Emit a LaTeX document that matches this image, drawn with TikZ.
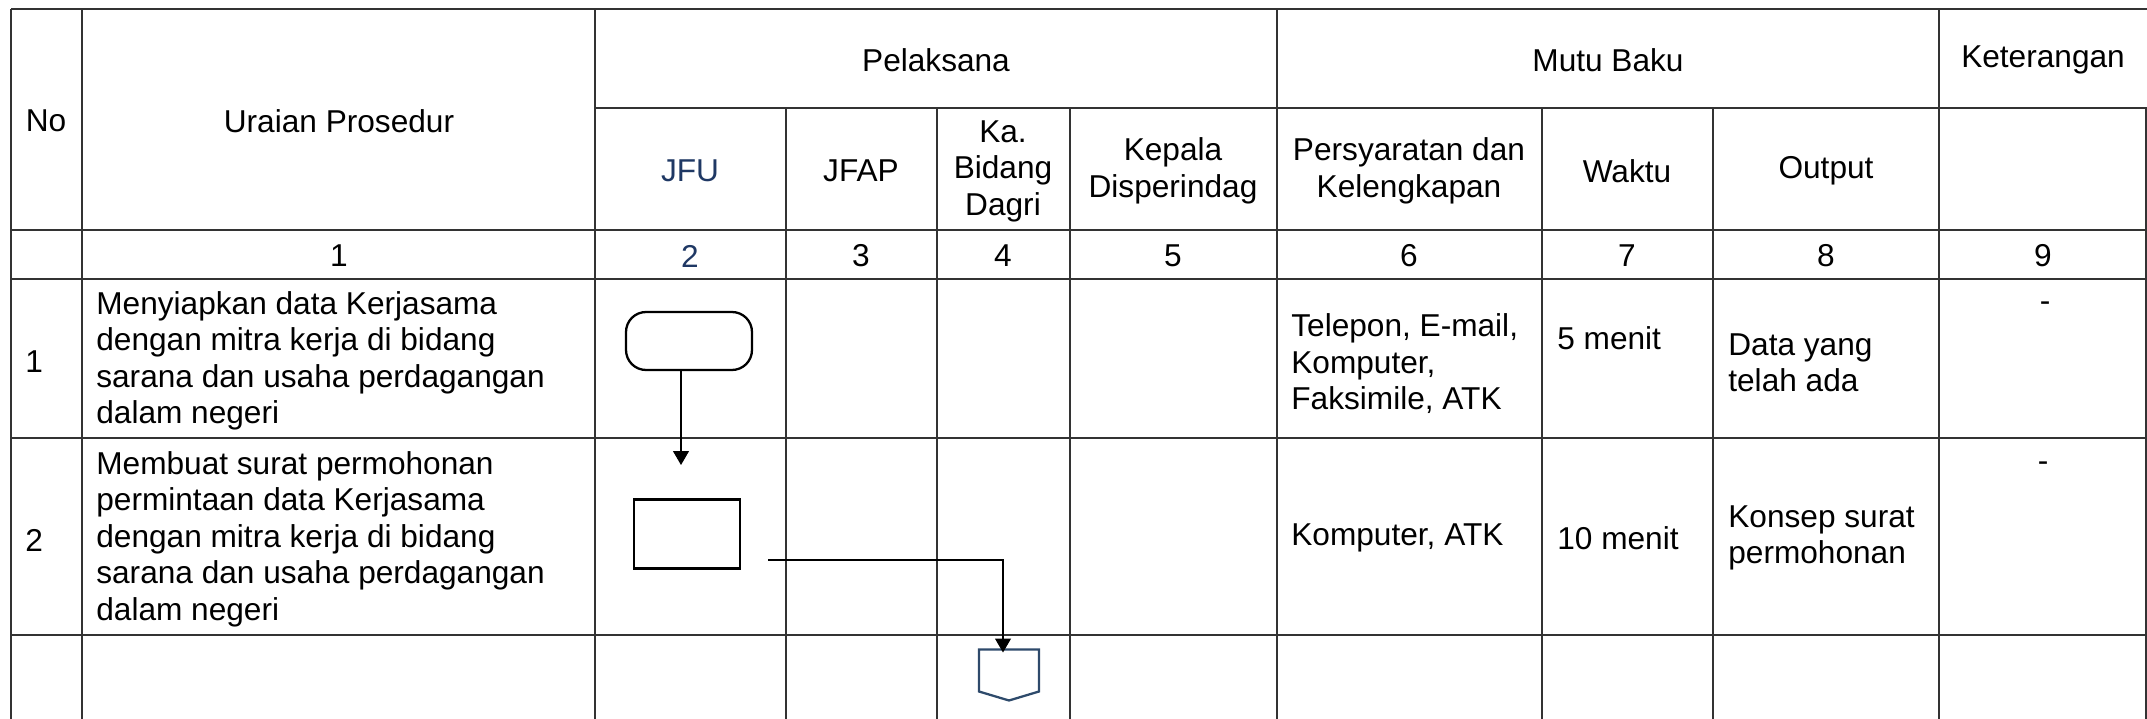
\documentclass[tikz,border=0pt]{standalone}
\usepackage{fontspec}
\setmainfont{Liberation Sans}
\usetikzlibrary{arrows.meta}

\definecolor{jfublue}{HTML}{1F3864}
\definecolor{offblue}{HTML}{2E4A6B}

\tikzset{
    tabline/.style={line width=0.9pt, black!80},
    cell/.style={inner sep=0pt, align=center},
    lcell/.style={inner sep=0pt, align=left, anchor=west},
    flow/.style={line width=0.6pt, -{Triangle[length=0.28cm, width=0.32cm]}},
    symbol/.style={draw, line width=1.3pt, outer sep=0pt, inner sep=0pt}
}

\begin{document}
\begin{tikzpicture}[x=0.02cm, y=-0.02cm, font=\fontsize{18pt}{20.8pt}\selectfont]
    \useasboundingbox (0,0) rectangle (2147,719);

    % table rules
    \draw[tabline] (11,9) -- (2147,9);
    \draw[tabline] (595,108) -- (2147,108);
    \foreach \y in {230,279,438,635}
        \draw[tabline] (11,\y) -- (2147,\y);
    \foreach \x in {11,82,595,1277,1939}
        \draw[tabline] (\x,9) -- (\x,719);
    \foreach \x in {786,937,1070,1542,1713,2146}
        \draw[tabline] (\x,108) -- (\x,719);

    % header
    \node[cell] (hno) at (46,121) {No};
    \node[cell] (huraian) at (339,121) {Uraian Prosedur};
    \node[cell] (hpel) at (936,60) {Pelaksana};
    \node[cell] (hmutu) at (1608,60) {Mutu Baku};
    \node[cell] (hket) at (2043,60) {Keterangan};

    \node[cell, text=jfublue] (hjfu) at (690,171) {JFU};
    \node[cell] (hjfap) at (861,171) {JFAP};
    \node[cell] (hkabid) at (1003,171) {Ka.\\Bidang\\Dagri};
    \node[cell] (hkadis) at (1173,171) {Kepala\\Disperindag};
    \node[cell] (hsyarat) at (1409,171) {Persyaratan dan\\Kelengkapan};
    \node[cell] (hwaktu) at (1627,171) {Waktu};
    \node[cell] (houtput) at (1826,171) {Output};

    % column numbers
    \node[cell] (k1) at (339,256) {1};
    \node[cell, text=jfublue] (k2) at (690,256) {2};
    \node[cell] (k3) at (861,256) {3};
    \node[cell] (k4) at (1003,256) {4};
    \node[cell] (k5) at (1173,256) {5};
    \node[cell] (k6) at (1409,256) {6};
    \node[cell] (k7) at (1627,256) {7};
    \node[cell] (k8) at (1826,256) {8};
    \node[cell] (k9) at (2043,256) {9};

    % step 1
    \node[lcell] (n1) at (25,362) {1};
    \node[lcell] (u1) at (96,361) {Menyiapkan data Kerjasama\\dengan mitra kerja di bidang\\sarana dan usaha perdagangan\\dalam negeri};
    \node[lcell] (s1) at (1291,364) {Telepon, E-mail,\\Komputer,\\Faksimile, ATK};
    \node[lcell] (w1) at (1557,338) {5 menit};
    \node[lcell] (o1) at (1728,363) {Data yang\\telah ada};
    \node[cell] (ket1) at (2045,307) {-};

    % step 2
    \node[lcell] (n2) at (25,540) {2};
    \node[lcell] (u2) at (96,539) {Membuat surat permohonan\\permintaan data Kerjasama\\dengan mitra kerja di bidang\\sarana dan usaha perdagangan\\dalam negeri};
    \node[lcell] (s2) at (1291,538) {Komputer, ATK};
    \node[lcell] (w2) at (1557,538) {10 menit};
    \node[lcell] (o2) at (1728,538) {Konsep surat\\permohonan};
    \node[cell] (ket2) at (2043,467) {-};

    % flow symbols
    \node[symbol, rounded corners=0.4cm, minimum width=2.52cm, minimum height=1.16cm] (start) at (689,341) {};
    \node[symbol, minimum width=2.12cm, minimum height=1.38cm] (buat) at (687,534) {};
    \node[outer sep=0pt, inner sep=0pt, minimum width=1.2cm, minimum height=1.02cm] (off) at (1009,675) {};
    \draw[offblue, line width=1.3pt] (off.north west) -- (off.north east) -- ([yshift=0.18cm]off.south east)
        -- (off.south) -- ([yshift=0.18cm]off.south west) -- cycle;

    \coordinate (a1) at (681,465);
    \coordinate (a2) at (768,560);
    \draw[flow] (start.south -| a1) -- (a1);
    \draw[flow] (a2) -| ([xshift=-0.12cm, yshift=-0.06cm]off.north);
\end{tikzpicture}
\end{document}
